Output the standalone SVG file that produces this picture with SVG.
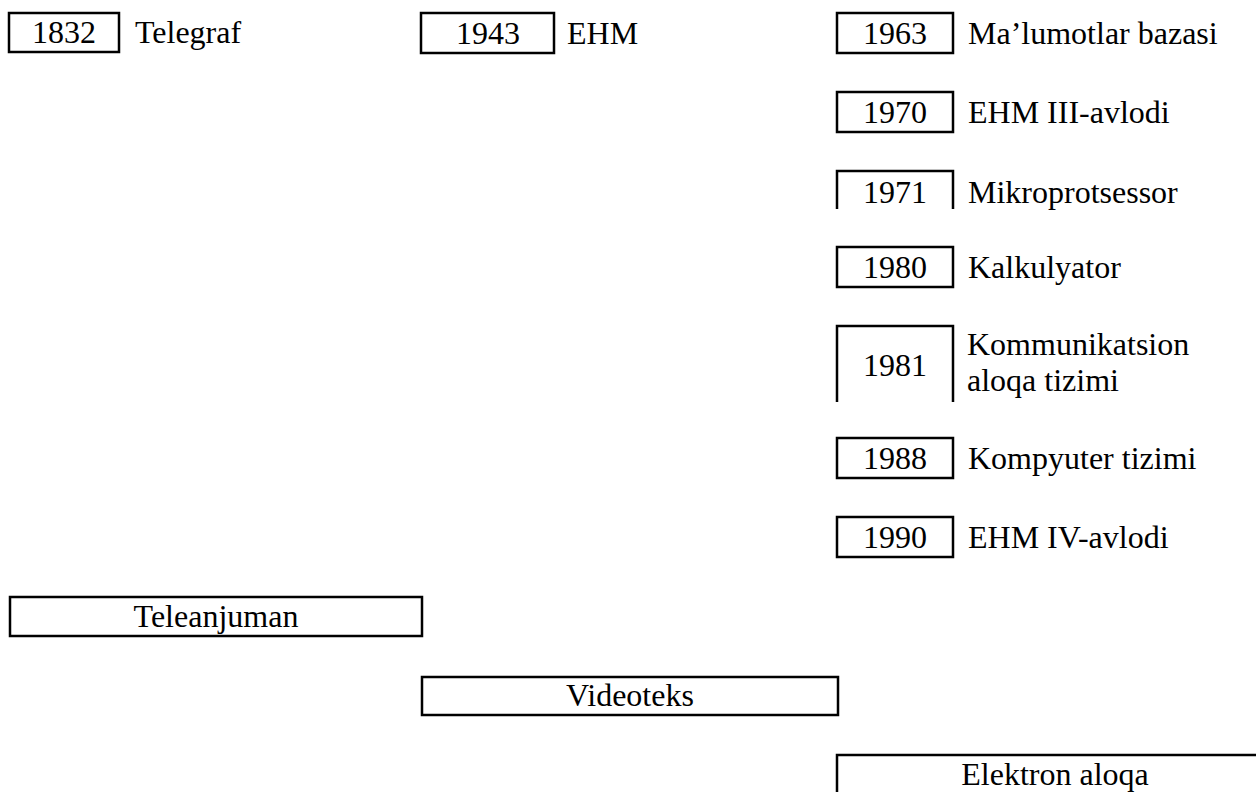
<svg xmlns="http://www.w3.org/2000/svg" width="1256" height="792" viewBox="0 0 1256 792">
  <style>
    .box { fill: none; stroke: #000; stroke-width: 2.5; }
    .t { font-family: "Liberation Serif", "Times New Roman", serif; font-size: 32px; fill: #000; }
    .c { text-anchor: middle; }
  </style>
  <rect width="1256" height="792" fill="#fff"/>

  <g id="y1832">
    <rect class="box" x="9" y="13" width="110" height="39"/>
    <text class="t c" x="64" y="43">1832</text>
    <text class="t" x="135" y="43">Telegraf</text>
  </g>
  <g id="y1943">
    <rect class="box" x="421" y="13" width="133" height="40"/>
    <text class="t c" x="488" y="43.5">1943</text>
    <text class="t" x="567" y="43.5">EHM</text>
  </g>
  <g id="y1963">
    <rect class="box" x="837" y="13" width="116" height="40"/>
    <text class="t c" x="895" y="43.5">1963</text>
    <text class="t" x="968" y="43.5">Ma’lumotlar bazasi</text>
  </g>
  <g id="y1970">
    <rect class="box" x="837" y="92" width="116" height="40"/>
    <text class="t c" x="895" y="123">1970</text>
    <text class="t" x="968" y="123">EHM III-avlodi</text>
  </g>
  <g id="y1971">
    <path class="box" d="M837,209 V171 H953 V209"/>
    <text class="t c" x="895" y="202.5">1971</text>
    <text class="t" x="968" y="202.5">Mikroprotsessor</text>
  </g>
  <g id="y1980">
    <rect class="box" x="837" y="247" width="116" height="40"/>
    <text class="t c" x="895" y="278">1980</text>
    <text class="t" x="968" y="278">Kalkulyator</text>
  </g>
  <g id="y1981">
    <path class="box" d="M837,402 V326 H953 V402"/>
    <text class="t c" x="895" y="376">1981</text>
    <text class="t" x="967" y="355">Kommunikatsion</text>
    <text class="t" x="967" y="391">aloqa tizimi</text>
  </g>
  <g id="y1988">
    <rect class="box" x="837" y="438" width="116" height="40"/>
    <text class="t c" x="895" y="469">1988</text>
    <text class="t" x="968" y="469">Kompyuter tizimi</text>
  </g>
  <g id="y1990">
    <rect class="box" x="837" y="517" width="116" height="40"/>
    <text class="t c" x="895" y="548">1990</text>
    <text class="t" x="968" y="548">EHM IV-avlodi</text>
  </g>

  <g id="teleanjuman">
    <rect class="box" x="10" y="597" width="412" height="39"/>
    <text class="t c" x="216" y="627">Teleanjuman</text>
  </g>
  <g id="videoteks">
    <rect class="box" x="422" y="677" width="416" height="38"/>
    <text class="t c" x="630" y="706">Videoteks</text>
  </g>
  <g id="elektron-aloqa">
    <rect class="box" x="837" y="755" width="440" height="60"/>
    <text class="t c" x="1055" y="785">Elektron aloqa</text>
  </g>

  <g id="connectors"/>
</svg>
